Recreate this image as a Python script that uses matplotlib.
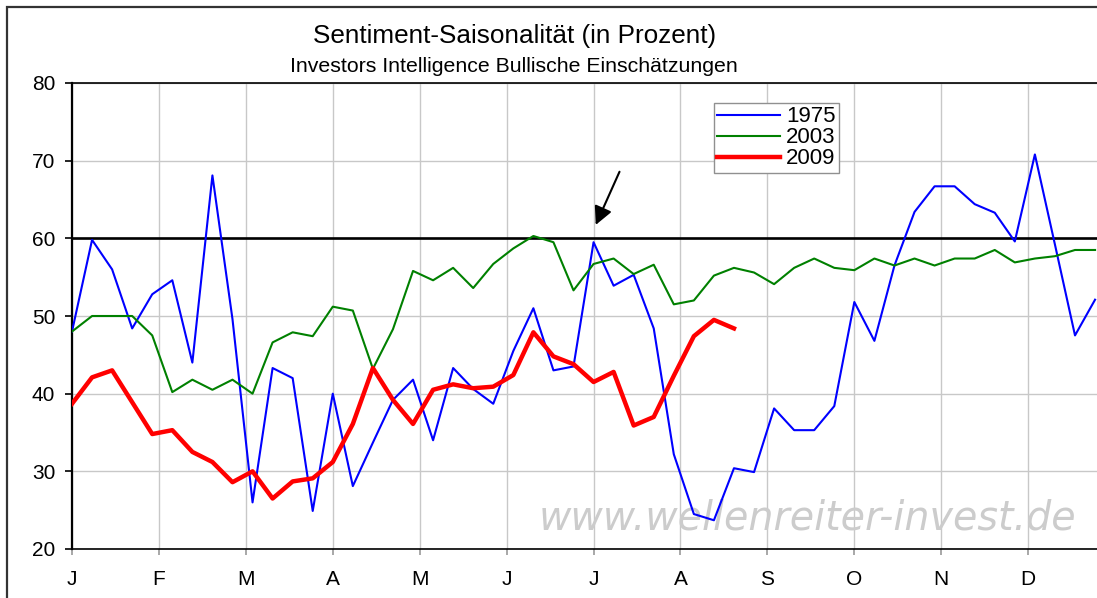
"""Sentiment-Saisonalitaet: Investors Intelligence bullish readings by week."""

import matplotlib

matplotlib.use("Agg")

import matplotlib.pyplot as plt
from matplotlib.patches import Rectangle

plt.rcParams["font.family"] = ["Liberation Sans", "DejaVu Sans"]

MONTHS = ["J", "F", "M", "A", "M", "J", "J", "A", "S", "O", "N", "D"]

bulls_1975 = [
    48.0, 59.8, 56.0, 48.4, 52.8, 54.6, 44.0, 68.1, 49.6, 26.0, 43.3, 42.0, 24.9,
    40.0, 28.1, 33.7, 39.2, 41.8, 34.0, 43.3, 40.6, 38.7, 45.5, 51.0, 43.0, 43.5,
    59.5, 53.9, 55.3, 48.4, 32.2, 24.5, 23.7, 30.4, 29.9, 38.1, 35.3, 35.3, 38.4,
    51.8, 46.8, 56.5, 63.4, 66.7, 66.7, 64.4, 63.3, 59.6, 70.8, 59.2, 47.5, 52.1,
]
bulls_2003 = [
    48.0, 50.0, 50.0, 50.0, 47.5, 40.2, 41.8, 40.5, 41.8, 40.0, 46.6, 47.9, 47.4,
    51.2, 50.7, 43.2, 48.3, 55.8, 54.6, 56.2, 53.6, 56.7, 58.7, 60.3, 59.5, 53.3,
    56.7, 57.4, 55.4, 56.6, 51.5, 52.0, 55.2, 56.2, 55.6, 54.1, 56.2, 57.4, 56.2,
    55.9, 57.4, 56.5, 57.4, 56.5, 57.4, 57.4, 58.5, 56.9, 57.4, 57.7, 58.5, 58.5,
]
bulls_2009 = [
    38.7, 42.1, 43.0, 38.9, 34.8, 35.3, 32.5, 31.2, 28.6, 30.0, 26.5, 28.7, 29.1,
    31.2, 36.1, 43.3, 39.2, 36.1, 40.5, 41.2, 40.7, 40.9, 42.4, 47.9, 44.8, 43.8,
    41.5, 42.8, 35.9, 37.0, 42.3, 47.4, 49.5, 48.4,
]
THRESHOLD = 60

W, H = 1097, 598
fig = plt.figure(figsize=(W / 100, H / 100), dpi=100)
fig.patch.set_facecolor("white")

# outer chart frame (cut off on the right and bottom in the original)
fig.patches.append(
    Rectangle((7 / W, -0.2), 1.3, 1.2 - 7 / H, transform=fig.transFigure,
              fill=False, edgecolor="#333333", linewidth=1.6, zorder=0)
)

week_px = 20.06
ax = fig.add_axes([72 / W, (H - 549) / H, 52 * week_px / W, 466 / H])
ax.set_xlim(0, 52)
ax.set_ylim(20, 80)

month_pos = [m * 52 / 12 for m in range(12)]
ax.set_xticks(month_pos)
ax.set_xticklabels(MONTHS, fontsize=15)
ax.set_yticks(range(20, 81, 10))
ax.tick_params(axis="y", labelsize=15, length=5, width=1.2, pad=7, color="black")
ax.tick_params(axis="x", length=4, width=1.2, pad=11, color="#999999")

ax.grid(True, color="#c8c8c8", linewidth=1.0)
ax.set_axisbelow(True)
for side in ("left", "top", "bottom"):
    ax.spines[side].set_color("black")
ax.spines["left"].set_linewidth(1.6)
ax.spines["bottom"].set_linewidth(1.2)
ax.spines["top"].set_linewidth(1.2)
ax.spines["right"].set_visible(False)

ax.text(0.963, 0.066, "www.wellenreiter-invest.de", transform=ax.transAxes,
        ha="right", va="center", fontsize=28.5, style="italic",
        family="DejaVu Sans", color="#cccccc", zorder=1)

ax.axhline(THRESHOLD, color="black", linewidth=1.9, zorder=2)

weeks = list(range(len(bulls_1975)))
ax.plot(weeks, bulls_1975, color="#0000ff", linewidth=1.5, label="1975", zorder=3)
ax.plot(weeks, bulls_2003, color="#008000", linewidth=1.5, label="2003", zorder=3)
ax.plot(list(range(len(bulls_2009))), bulls_2009, color="#ff0000", linewidth=3.2,
        label="2009", zorder=4)

ax.annotate("", xy=(26.05, 61.4), xytext=(27.35, 68.9),
            arrowprops=dict(arrowstyle="-|>,head_length=1.1,head_width=0.55",
                            color="black", linewidth=1.5))

leg = ax.legend(loc="upper left", bbox_to_anchor=((714 - 72) / (52 * week_px), 1 - 20 / 466),
                fontsize=16, frameon=True, fancybox=False, framealpha=1,
                edgecolor="#909090", handlelength=2.8, handletextpad=0.3,
                labelspacing=0.0, borderpad=0.15, borderaxespad=0)
leg.get_frame().set_linewidth(1.0)

fig.text(515 / W, 1 - 36 / H, "Sentiment-Saisonalität (in Prozent)",
         ha="center", va="center", fontsize=18.8)
fig.text(514 / W, 1 - 67 / H, "Investors Intelligence Bullische Einschätzungen",
         ha="center", va="center", fontsize=15.3)

fig.savefig("out.png", dpi=100)
